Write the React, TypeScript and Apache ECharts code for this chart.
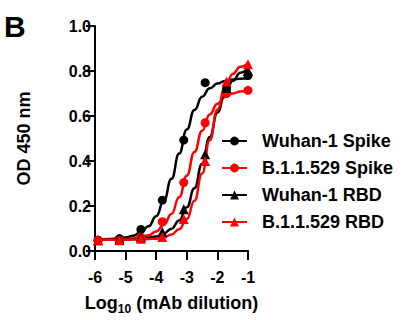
import React, { useEffect, useRef } from "react";
import * as echarts from "echarts";

// Dilution points (log10)
const pointX = [-5.9, -5.2, -4.5, -3.8, -3.1, -2.4, -1.7, -1.0];
const wuhanSpikePts = [0.048, 0.055, 0.096, 0.226, 0.493, 0.748, 0.722, 0.78];
const omicronSpikePts = [0.048, 0.048, 0.062, 0.13, 0.304, 0.57, 0.7, 0.714];
const wuhanRbdPts = [0.048, 0.055, 0.062, 0.084, 0.186, 0.43, 0.725, 0.8];
const omicronRbdPts = [0.048, 0.048, 0.055, 0.062, 0.142, 0.4, 0.753, 0.83];

// Fitted curves
const curveX = [-6, -5.5, -5, -4.75, -4.5, -4.25, -4, -3.75, -3.5, -3.25, -3, -2.75, -2.5, -2.25, -2, -1.75, -1.5, -1.25, -1];
const wuhanSpikeCurve = [0.051, 0.053, 0.06, 0.068, 0.083, 0.11, 0.155, 0.224, 0.321, 0.433, 0.54, 0.627, 0.686, 0.723, 0.744, 0.756, 0.762, 0.766, 0.768];
const omicronSpikeCurve = [0.05, 0.051, 0.053, 0.056, 0.061, 0.07, 0.087, 0.117, 0.165, 0.239, 0.335, 0.44, 0.535, 0.607, 0.655, 0.684, 0.7, 0.709, 0.714];
const wuhanRbdCurve = [0.05, 0.05, 0.051, 0.053, 0.055, 0.059, 0.065, 0.078, 0.099, 0.136, 0.194, 0.279, 0.388, 0.507, 0.615, 0.699, 0.756, 0.792, 0.813];
const omicronRbdCurve = [0.05, 0.05, 0.05, 0.051, 0.051, 0.053, 0.055, 0.061, 0.073, 0.097, 0.142, 0.223, 0.345, 0.492, 0.628, 0.727, 0.787, 0.819, 0.835];

const seriesNames = ["Wuhan-1 Spike", "B.1.1.529 Spike", "Wuhan-1 RBD", "B.1.1.529 RBD"];
const seriesColors = ["#000000", "#ff0000", "#000000", "#ff0000"];
const seriesSymbols = ["circle", "circle", "triangle", "triangle"];
const xTicks = [-6, -5, -4, -3, -2, -1];

const FONT = "'Liberation Sans', Arial, Helvetica, sans-serif";

export default function App() {
  const ref = useRef<HTMLDivElement>(null);
  useEffect(() => {
    if (!ref.current) return;
    const chart = echarts.init(ref.current, undefined, { renderer: "svg" });
    const pts = [wuhanSpikePts, omicronSpikePts, wuhanRbdPts, omicronRbdPts];
    const curves = [wuhanSpikeCurve, omicronSpikeCurve, wuhanRbdCurve, omicronRbdCurve];
    const series: any[] = [];
    seriesNames.forEach((name, i) => {
      series.push({
        name,
        type: "line",
        smooth: 0.5,
        smoothMonotone: "x",
        symbol: seriesSymbols[i],
        showSymbol: false,
        data: curveX.map((x, k) => [x, curves[i][k]]),
        lineStyle: { color: seriesColors[i], width: 2.5 },
        itemStyle: { color: seriesColors[i] },
        z: 2,
      });
      series.push({
        name: name + " points",
        type: "scatter",
        symbol: seriesSymbols[i],
        symbolSize: seriesSymbols[i] === "circle" ? 9 : 10,
        data: pointX.map((x, k) => [x, pts[i][k]]),
        itemStyle: { color: seriesColors[i], opacity: 1 },
        z: 3,
      });
    });
    chart.setOption({
      animation: false,
      textStyle: { fontFamily: FONT },
      grid: { left: 95, right: 154, top: 26, bottom: 64 },
      xAxis: {
        type: "value",
        min: -6,
        max: -1,
        interval: 1,
        name: "{a|Log}{b|10}{a| (mAb dilution)}",
        nameLocation: "middle",
        nameGap: 40,
        nameTextStyle: {
          rich: {
            a: { fontFamily: FONT, fontWeight: "bold", fontSize: 18, color: "#000", lineHeight: 24, verticalAlign: "middle" },
            b: { fontFamily: FONT, fontWeight: "bold", fontSize: 12, color: "#000", lineHeight: 24, verticalAlign: "bottom" },
          },
          verticalAlign: "top",
        },
        axisLine: { onZero: false, lineStyle: { color: "#000", width: 2 } },
        axisTick: { length: 9, lineStyle: { color: "#000", width: 2 } },
        axisLabel: {
          margin: 18,
          color: "#000",
          fontFamily: FONT,
          fontWeight: "bold",
          fontSize: 16,
          formatter: (v: number) => (xTicks.includes(v) ? String(v) : ""),
        },
        splitLine: { show: false },
      },
      yAxis: {
        type: "value",
        min: 0,
        max: 1,
        interval: 0.2,
        name: "OD 450 nm",
        nameLocation: "middle",
        nameGap: 62,
        nameTextStyle: { fontFamily: FONT, fontWeight: "bold", fontSize: 18, color: "#000" },
        axisLine: { show: true, onZero: false, lineStyle: { color: "#000", width: 2 } },
        axisTick: { show: true, length: 9, lineStyle: { color: "#000", width: 2 } },
        axisLabel: {
          margin: 4,
          color: "#000",
          fontFamily: FONT,
          fontWeight: "bold",
          fontSize: 16,
          formatter: (v: number) => v.toFixed(1),
        },
        splitLine: { show: false },
      },
      legend: {
        data: seriesNames,
        orient: "vertical",
        left: 221,
        top: 132,
        padding: 0,
        itemWidth: 25,
        itemHeight: 11,
        itemGap: 9,
        selectedMode: false,
        textStyle: {
          fontFamily: FONT,
          fontWeight: "bold",
          fontSize: 18,
          color: "#000",
          padding: [0, 0, 0, 10],
        },
      },
      graphic: [
        {
          type: "text",
          left: 4,
          top: 11,
          style: { text: "B", fontFamily: FONT, fontWeight: "bold", fontSize: 30, fill: "#000" },
        },
      ],
      series,
    });
    return () => chart.dispose();
  }, []);
  return <div ref={ref} style={{ width: 402, height: 320, position: "absolute", left: 0, top: 0, background: "#fff" }} />;
}
